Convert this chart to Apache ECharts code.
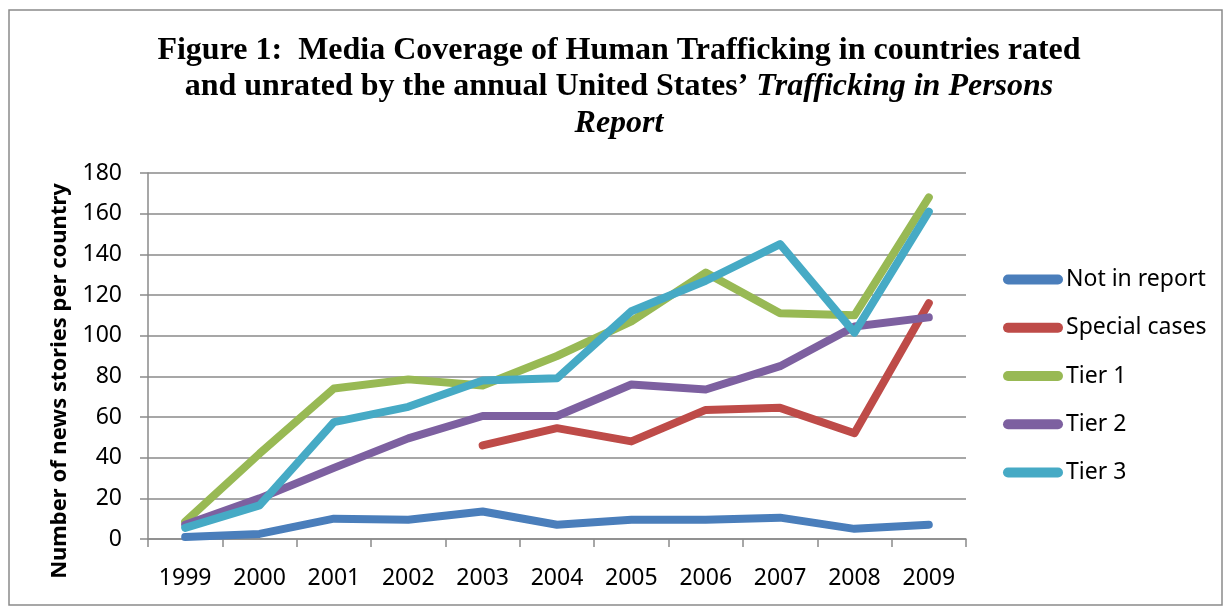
<!DOCTYPE html>
<html>
<head>
<meta charset="utf-8">
<script src="https://cdn.jsdelivr.net/npm/echarts@6/dist/echarts.min.js"></script>
<style>
html,body{margin:0;padding:0;background:#fff;}
#chart{width:1228px;height:607px;}
</style>
</head>
<body>
<div id="chart"></div>
<script>
const years = ['1999','2000','2001','2002','2003','2004','2005','2006','2007','2008','2009'];
const notInReport = [1, 2.5, 10, 9.5, 13.5, 7, 9.5, 9.5, 10.5, 5, 7];
const specialCases = [null, null, null, null, 46, 54.5, 48, 63.5, 64.5, 52, 116];
const tier1 = [8.5, 42, 74, 78.5, 75.5, 90, 107, 131, 111, 110, 168];
const tier2 = [7, 20, 35, 49.5, 60.5, 60.5, 76, 73.5, 85, 104.5, 109];
const tier3 = [5.5, 16.5, 57.5, 65, 78, 79, 112, 127, 145, 101.5, 161];
const yTicks = {min: 0, max: 180, interval: 20};

const seriesDefs = [
  {name: 'Not in report', data: notInReport, color: '#4A7EBB'},
  {name: 'Special cases', data: specialCases, color: '#BE4B48'},
  {name: 'Tier 1', data: tier1, color: '#98B954'},
  {name: 'Tier 2', data: tier2, color: '#7D60A0'},
  {name: 'Tier 3', data: tier3, color: '#46AAC5'}
];

const chart = echarts.init(document.getElementById('chart'));
const gridColor = '#8a8a8a';
const labelFont = '"Noto Sans", "Open Sans", sans-serif';
chart.setOption({
  animation: false,
  backgroundColor: '#ffffff',
  title: {
    left: 614, top: 27,
    textAlign: 'center',
    text: '{b|Figure 1:  Media Coverage of Human Trafficking in countries rated}\n{b|and unrated by the annual United States’ }{bi|Trafficking in Persons}\n{bi|Report}',
    textStyle: {
      rich: {
        b: {fontFamily: '"Liberation Serif", serif', fontWeight: 'bold', fontSize: 32, lineHeight: 36.5, color: '#000'},
        bi: {fontFamily: '"Liberation Serif", serif', fontWeight: 'bold', fontStyle: 'italic', fontSize: 32, lineHeight: 36.5, color: '#000'}
      }
    }
  },
  graphic: [{
    type: 'rect', silent: true,
    shape: {x: 9, y: 10, width: 1213, height: 595},
    style: {fill: 'none', stroke: '#8a8a8a', lineWidth: 1.5}
  }, {
    type: 'text', silent: true,
    x: 60, y: 381, rotation: Math.PI / 2,
    style: {
      text: 'Number of news stories per country',
      font: 'bold 22px "Noto Sans", sans-serif',
      fill: '#000', align: 'center', verticalAlign: 'middle'
    }
  }],
  legend: {
    orient: 'vertical',
    left: 1003, top: 268, padding: 0,
    itemWidth: 60, itemHeight: 10, itemGap: 25.25,
    icon: 'path://M5,0 L55,0 A5,5 0 0 1 55,10 L5,10 A5,5 0 0 1 5,0 Z',
    textStyle: {fontFamily: labelFont, fontSize: 23, color: '#000', padding: [0,0,0,-2]},
    data: seriesDefs.map(s => s.name)
  },
  grid: {left: 148, right: 262, top: 173, bottom: 68, containLabel: false},
  xAxis: {
    type: 'category', data: years, boundaryGap: true,
    axisLine: {lineStyle: {color: gridColor, width: 1.5}},
    axisTick: {show: true, length: 8, interval: 0, lineStyle: {color: gridColor, width: 1.5}},
    axisLabel: {fontFamily: labelFont, fontSize: 23, color: '#000', margin: 28, interval: 0}
  },
  yAxis: {
    type: 'value', min: yTicks.min, max: yTicks.max, interval: yTicks.interval,
    axisLine: {show: true, lineStyle: {color: gridColor, width: 1.5}},
    axisTick: {show: true, length: 8, lineStyle: {color: gridColor, width: 1.5}},
    axisLabel: {fontFamily: labelFont, fontSize: 23, color: '#000', margin: 26},
    splitLine: {show: true, lineStyle: {color: gridColor, width: 1.5}}
  },
  series: seriesDefs.map(s => ({
    name: s.name, type: 'line', data: s.data,
    symbol: 'none', showSymbol: false, connectNulls: false,
    color: s.color,
    itemStyle: {color: s.color},
    lineStyle: {color: s.color, width: 8, cap: 'round', join: 'round'}
  }))
});
</script>
</body>
</html>
